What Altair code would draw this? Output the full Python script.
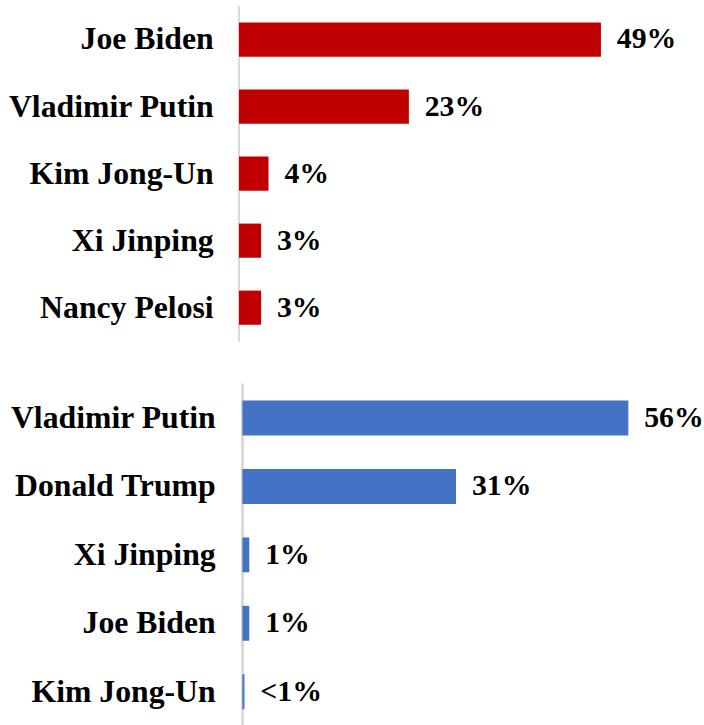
import altair as alt
import pandas as pd

# Top panel (red)
top_names = ["Joe Biden", "Vladimir Putin", "Kim Jong-Un", "Xi Jinping", "Nancy Pelosi"]
top_values = [49, 23, 4, 3, 3]
top_labels = ["49%", "23%", "4%", "3%", "3%"]

# Bottom panel (blue)
bot_names = ["Vladimir Putin", "Donald Trump", "Xi Jinping", "Joe Biden", "Kim Jong-Un"]
bot_values = [56, 31, 1, 1, 0.3]
bot_labels = ["56%", "31%", "1%", "1%", "<1%"]

FONT = "'Liberation Serif', 'Times New Roman', serif"


def panel(names, values, labels, color, width, height, xdomain, label_pad):
    df = pd.DataFrame({"name": names, "value": values, "label": labels})
    y = alt.Y(
        "name:N",
        sort=names,
        title=None,
        scale=alt.Scale(paddingInner=0.49, paddingOuter=0.245),
        axis=alt.Axis(
            ticks=False,
            domain=False,
            labelFont=FONT,
            labelFontSize=32,
            labelFontWeight="bold",
            labelColor="#000000",
            labelPadding=label_pad,
            labelLimit=400,
            grid=False,
        ),
    )
    xscale = alt.Scale(domain=xdomain, nice=False, zero=False)
    x = alt.X("value:Q", title=None, scale=xscale, axis=None)
    base = alt.Chart(df)
    axis_line = base.transform_calculate(zero="0").mark_rule(
        color="#d9d9d9", strokeWidth=2
    ).encode(
        x=alt.X("zero:Q", scale=xscale, axis=None), y=alt.value(0), y2=alt.value(height)
    )
    bars = base.mark_bar(color=color).encode(x=x, y=y)
    text = base.mark_text(
        align="left", baseline="middle", dx=16, font=FONT, fontSize=30,
        fontWeight="bold", color="#000000"
    ).encode(x=x, y=alt.Y("name:N", sort=names), text="label:N")
    return alt.layer(axis_line, bars, text).properties(width=width, height=height)


top = panel(top_names, top_values, top_labels, "#C00000", 447, 338, [0, 60], 26)
bottom = panel(bot_names, bot_values, bot_labels, "#4472C4", 417, 345, [-0.5, 59.5], 24)

chart = alt.vconcat(top, bottom, spacing=41).properties(
    padding={"left": 7, "top": 2, "right": 0, "bottom": 0},
    background="white",
).configure_view(stroke=None)

chart.save("out.html", embed_options={"renderer": "svg", "actions": False})
